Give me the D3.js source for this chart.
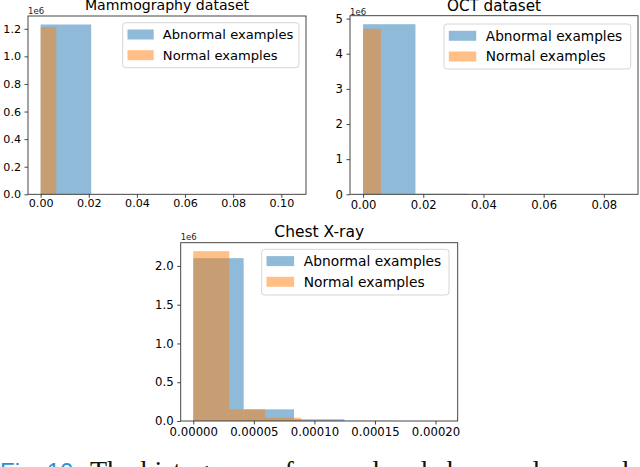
<!DOCTYPE html>
<html>
<head>
<meta charset="utf-8">
<script src="https://cdn.jsdelivr.net/npm/d3@7"></script>
<style>
  body { margin: 0; background: #fff; }
  svg { display: block; font-family: "DejaVu Sans", sans-serif; }
</style>
</head>
<body>
<div id="chart"></div>
<script>
// legend labels
const seriesNames = ["Abnormal examples", "Normal examples"];

// Mammography histogram (bin edges + counts)
const mammoAbnormalEdges = [0, 0.021, 0.042, 0.063, 0.084, 0.105];
const mammoAbnormalCounts = [1.231e6, 0, 0, 0, 0];
const mammoNormalEdges = [0, 0.0065, 0.013, 0.0195, 0.026, 0.0325, 0.039, 0.0455, 0.052, 0.0585, 0.065];
const mammoNormalCounts = [1.212e6, 0, 0, 0, 0, 0, 0, 0, 0, 0];
const mammoXTicks = [0, 0.02, 0.04, 0.06, 0.08, 0.10];
const mammoYTicks = [0, 0.2e6, 0.4e6, 0.6e6, 0.8e6, 1.0e6, 1.2e6];

// OCT histogram
const octAbnormalEdges = [0, 0.0174, 0.0348, 0.0522, 0.0696, 0.087];
const octAbnormalCounts = [4.84e6, 0.015e6, 0, 0, 0];
const octNormalEdges = [0, 0.0059, 0.0118, 0.0177, 0.0236, 0.0295];
const octNormalCounts = [4.71e6, 0, 0, 0, 0];
const octXTicks = [0, 0.02, 0.04, 0.06, 0.08];
const octYTicks = [0, 1e6, 2e6, 3e6, 4e6, 5e6];

// Chest X-ray histogram
const chestAbnormalEdges = [0, 4.158e-5, 8.316e-5, 1.2474e-4, 1.6632e-4, 2.079e-4];
const chestAbnormalCounts = [2.10e6, 0.15e6, 0.022e6, 0.002e6, 0];
const chestNormalEdges = [0, 2.97e-5, 5.94e-5, 8.91e-5, 1.188e-4, 1.485e-4, 1.782e-4, 2.079e-4];
const chestNormalCounts = [2.19e6, 0.15e6, 0.042e6, 0.004e6, 0, 0, 0];
const chestXTicks = [0, 0.00005, 0.00010, 0.00015, 0.00020];
const chestYTicks = [0, 0.5e6, 1.0e6, 1.5e6, 2.0e6];

const blue = "#1f77b4";
const orange = "#ff7f0e";

const svg = d3.select("#chart")
    .append("svg")
    .attr("width", 640)
    .attr("height", 467);

// layout of each subplot
const panels = [
    {
        title: "Mammography dataset",
        abnormal: [mammoAbnormalEdges, mammoAbnormalCounts],
        normal: [mammoNormalEdges, mammoNormalCounts],
        xTicks: mammoXTicks, xFormat: ".2f",
        yTicks: mammoYTicks, yFormat: ".1f",
        left: 28, right: 306, top: 16, bottom: 194.3,
        titleY: 9.5, titleSize: 14.1, tickSize: 11.1, xPad: 1.6,
        offsetY: 14,
        legend: { x: 122.7, y: 22.7, w: 176.3, h: 45, size: 13.1 }
    },
    {
        title: "OCT dataset",
        abnormal: [octAbnormalEdges, octAbnormalCounts],
        normal: [octNormalEdges, octNormalCounts],
        xTicks: octXTicks, xFormat: ".2f",
        yTicks: octYTicks, yFormat: ".0f",
        left: 350, right: 638, top: 15.7, bottom: 194.3,
        titleY: 10.5, titleSize: 15.2, tickSize: 11.6, xPad: 2.8,
        offsetY: 14.5,
        legend: { x: 444, y: 24, w: 186.7, h: 45, size: 13.7 }
    },
    {
        title: "Chest X-ray",
        abnormal: [chestAbnormalEdges, chestAbnormalCounts],
        normal: [chestNormalEdges, chestNormalCounts],
        xTicks: chestXTicks, xFormat: ".5f",
        yTicks: chestYTicks, yFormat: ".1f",
        left: 180.7, right: 457.7, top: 242.7, bottom: 421,
        titleY: 236.5, titleSize: 15.5, tickSize: 11.7, xPad: 3.5,
        offsetY: 240,
        legend: { x: 261.7, y: 249.3, w: 187.3, h: 45.7, size: 13.8 }
    }
];

function toBins(edges, counts) {
    return d3.pairs(edges).map(([x0, x1], i) => ({ x0: x0, x1: x1, count: counts[i] }));
}

function drawPanel(p) {
    const edges = p.abnormal[0].concat(p.normal[0]);
    const lo = d3.min(edges), hi = d3.max(edges);
    const pad = (hi - lo) * 0.05;   // matplotlib default margins
    const x = d3.scaleLinear().domain([lo - pad, hi + pad]).range([p.left, p.right]);
    const yMax = d3.max(p.abnormal[1].concat(p.normal[1])) * 1.05;
    const y = d3.scaleLinear().domain([0, yMax]).range([p.bottom, p.top]);

    const g = svg.append("g");

    // histograms, abnormal under normal
    [[p.abnormal, blue], [p.normal, orange]].forEach(([s, color]) => {
        g.append("g")
            .selectAll("rect")
            .data(toBins(s[0], s[1]))
            .enter().append("rect")
            .attr("x", d => x(d.x0))
            .attr("y", d => y(d.count))
            .attr("width", d => x(d.x1) - x(d.x0))
            .attr("height", d => y(0) - y(d.count))
            .attr("fill", color)
            .attr("fill-opacity", 0.5);
    });

    // axes
    const xAxis = d3.axisBottom(x)
        .tickValues(p.xTicks)
        .tickFormat(d3.format(p.xFormat))
        .tickSizeOuter(0)
        .tickSize(3.5)
        .tickPadding(p.xPad);
    const yAxis = d3.axisLeft(y)
        .tickValues(p.yTicks)
        .tickFormat(d => d3.format(p.yFormat)(d / 1e6))
        .tickSizeOuter(0)
        .tickSize(3.5)
        .tickPadding(3.5);

    g.append("g")
        .attr("transform", `translate(0,${p.bottom})`)
        .call(xAxis)
        .call(a => a.select(".domain").remove());
    g.append("g")
        .attr("transform", `translate(${p.left},0)`)
        .call(yAxis)
        .call(a => a.select(".domain").remove());
    g.selectAll(".tick text")
        .attr("font-family", "DejaVu Sans")
        .attr("font-size", p.tickSize)
        .attr("fill", "#000");
    g.selectAll(".tick line").attr("stroke", "#333").attr("stroke-width", 0.9);

    // frame
    g.append("rect")
        .attr("x", p.left)
        .attr("y", p.top)
        .attr("width", p.right - p.left)
        .attr("height", p.bottom - p.top)
        .attr("fill", "none")
        .attr("stroke", "#333")
        .attr("stroke-width", 0.9);

    // offset label
    g.append("text")
        .attr("x", p.left)
        .attr("y", p.offsetY)
        .attr("font-size", 8.5)
        .attr("fill", "#222")
        .text("1e6");

    // title
    g.append("text")
        .attr("x", (p.left + p.right) / 2)
        .attr("y", p.titleY)
        .attr("text-anchor", "middle")
        .attr("font-size", p.titleSize)
        .attr("fill", "#000")
        .text(p.title);

    // legend
    const L = p.legend;
    const lg = g.append("g").attr("transform", `translate(${L.x},${L.y})`);
    lg.append("rect")
        .attr("width", L.w)
        .attr("height", L.h)
        .attr("rx", 3)
        .attr("fill", "#fff")
        .attr("fill-opacity", 0.8)
        .attr("stroke", "#d6d6d6");
    const rows = lg.selectAll(".row")
        .data(seriesNames)
        .enter().append("g")
        .attr("class", "row")
        .attr("transform", (d, i) => `translate(0,${11.8 + i * 20.7})`);
    rows.append("rect")
        .attr("x", 4.8)
        .attr("y", -5)
        .attr("width", L.size * 2)
        .attr("height", 10)
        .attr("fill", (d, i) => i === 0 ? blue : orange)
        .attr("fill-opacity", 0.5);
    rows.append("text")
        .attr("x", 4.8 + L.size * 2 + L.size * 0.7)
        .attr("dy", "0.36em")
        .attr("font-size", L.size)
        .attr("fill", "#000")
        .text(d => d);
}

panels.forEach(drawPanel);

// figure caption, mostly below the bottom edge
svg.append("text")
    .attr("x", 0)
    .attr("y", 480)
    .attr("font-family", "Liberation Sans")
    .attr("font-size", 24)
    .attr("fill", "#2b8fd6")
    .text("Fig. 10.");
svg.append("text")
    .attr("x", 90)
    .attr("y", 480)
    .attr("font-family", "Liberation Serif")
    .attr("font-size", 28)
    .attr("fill", "#111")
    .text("The histograms of normal and abnormal examples of each dataset.");
</script>
</body>
</html>
